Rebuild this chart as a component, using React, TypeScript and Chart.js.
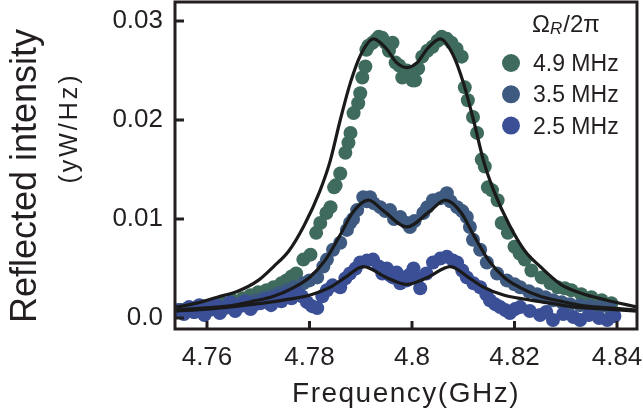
import React, { useEffect, useRef } from 'react';
import { Chart, registerables } from 'chart.js';

Chart.register(...registerables);

const FONT = '"Liberation Sans", Arial, Helvetica, sans-serif';
const INK = '#231f20';

const seriesLabels = ['4.9 MHz', '3.5 MHz', '2.5 MHz'];
const seriesColors = ['#3e6b5d', '#3e5a80', '#3a4f96'];

const xTicks = [4.76, 4.78, 4.8, 4.82, 4.84];
const xTickLabels = ['4.76', '4.78', '4.8', '4.82', '4.84'];
const yTicks = [0, 0.01, 0.02, 0.03];
const yTickLabels = ['0.0', '0.01', '0.02', '0.03'];

// Measured data, 4.9 MHz
const freq49 = [4.7550, 4.7570, 4.7590, 4.7610, 4.7630, 4.7650, 4.7670, 4.7685, 4.7700, 4.7716, 4.7730, 4.7745, 4.7755, 4.7765, 4.7774, 4.7788, 4.7802, 4.7813, 4.7821, 4.7833, 4.7841, 4.7848, 4.7851, 4.7860, 4.7870, 4.7876, 4.7880, 4.7886, 4.7895, 4.7899, 4.7903, 4.7909, 4.7911, 4.7915, 4.7923, 4.7930, 4.7935, 4.7942, 4.7948, 4.7955, 4.7962, 4.7968, 4.7975, 4.7981, 4.7990, 4.8001, 4.8006, 4.8012, 4.8020, 4.8030, 4.8040, 4.8050, 4.8058, 4.8068, 4.8077, 4.8087, 4.8097, 4.8103, 4.8109, 4.8119, 4.8127, 4.8136, 4.8142, 4.8148, 4.8156, 4.8167, 4.8175, 4.8187, 4.8200, 4.8210, 4.8220, 4.8233, 4.8253, 4.8270, 4.8284, 4.8298, 4.8311, 4.8330, 4.8350, 4.8370, 4.8389];
const val49 = [0.0008, 0.0010, 0.0012, 0.0013, 0.0015, 0.0018, 0.0020, 0.0023, 0.0026, 0.0028, 0.0031, 0.0035, 0.0038, 0.0042, 0.0045, 0.0059, 0.0064, 0.0086, 0.0096, 0.0106, 0.0112, 0.0132, 0.0134, 0.0146, 0.0167, 0.0177, 0.0187, 0.0207, 0.0217, 0.0227, 0.0243, 0.0254, 0.0271, 0.0275, 0.0278, 0.0281, 0.0284, 0.0283, 0.0278, 0.0270, 0.0278, 0.0258, 0.0255, 0.0243, 0.0250, 0.0240, 0.0240, 0.0252, 0.0264, 0.0270, 0.0274, 0.0280, 0.0284, 0.0282, 0.0278, 0.0272, 0.0264, 0.0233, 0.0220, 0.0203, 0.0187, 0.0160, 0.0153, 0.0132, 0.0129, 0.0119, 0.0096, 0.0086, 0.0072, 0.0065, 0.0059, 0.0048, 0.0041, 0.0035, 0.0031, 0.0030, 0.0028, 0.0024, 0.0021, 0.0018, 0.0015];

// Measured data, 3.5 MHz
const freq35 = [4.7545, 4.7560, 4.7575, 4.7590, 4.7605, 4.7620, 4.7635, 4.7650, 4.7665, 4.7680, 4.7695, 4.7710, 4.7725, 4.7740, 4.7756, 4.7770, 4.7788, 4.7800, 4.7815, 4.7827, 4.7834, 4.7846, 4.7860, 4.7873, 4.7879, 4.7885, 4.7893, 4.7905, 4.7912, 4.7918, 4.7925, 4.7938, 4.7948, 4.7957, 4.7965, 4.7977, 4.7990, 4.7996, 4.8005, 4.8022, 4.8030, 4.8041, 4.8055, 4.8068, 4.8075, 4.8088, 4.8098, 4.8107, 4.8113, 4.8119, 4.8133, 4.8146, 4.8166, 4.8185, 4.8200, 4.8211, 4.8228, 4.8244, 4.8260, 4.8275, 4.8292, 4.8308, 4.8328, 4.8347, 4.8366, 4.8386];
const val35 = [0.0007, 0.0009, 0.0006, 0.0010, 0.0008, 0.0012, 0.0010, 0.0013, 0.0015, 0.0014, 0.0018, 0.0020, 0.0022, 0.0025, 0.0028, 0.0031, 0.0035, 0.0038, 0.0041, 0.0052, 0.0059, 0.0069, 0.0076, 0.0089, 0.0096, 0.0100, 0.0109, 0.0122, 0.0118, 0.0122, 0.0116, 0.0112, 0.0108, 0.0109, 0.0100, 0.0102, 0.0096, 0.0092, 0.0098, 0.0106, 0.0112, 0.0119, 0.0121, 0.0126, 0.0118, 0.0112, 0.0108, 0.0102, 0.0092, 0.0079, 0.0069, 0.0056, 0.0045, 0.0038, 0.0034, 0.0031, 0.0027, 0.0024, 0.0021, 0.0018, 0.0016, 0.0014, 0.0013, 0.0012, 0.0011, 0.0010];

// Measured data, 2.5 MHz
const freq25 = [4.7545, 4.7555, 4.7565, 4.7575, 4.7585, 4.7595, 4.7605, 4.7615, 4.7625, 4.7635, 4.7645, 4.7655, 4.7665, 4.7675, 4.7685, 4.7695, 4.7705, 4.7715, 4.7725, 4.7735, 4.7745, 4.7755, 4.7765, 4.7775, 4.7785, 4.7795, 4.7805, 4.7815, 4.7825, 4.7834, 4.7845, 4.7860, 4.7870, 4.7879, 4.7890, 4.7899, 4.7912, 4.7924, 4.7935, 4.7942, 4.7951, 4.7958, 4.7963, 4.7970, 4.7977, 4.7985, 4.7990, 4.7996, 4.8003, 4.8010, 4.8016, 4.8028, 4.8041, 4.8055, 4.8068, 4.8080, 4.8088, 4.8098, 4.8107, 4.8120, 4.8133, 4.8145, 4.8152, 4.8162, 4.8172, 4.8182, 4.8191, 4.8201, 4.8211, 4.8230, 4.8250, 4.8262, 4.8275, 4.8295, 4.8315, 4.8328, 4.8345, 4.8365, 4.8381, 4.8395];
const val25 = [0.0008, 0.0004, 0.0011, 0.0006, 0.0013, 0.0003, 0.0009, 0.0014, 0.0005, 0.0011, 0.0016, 0.0007, 0.0012, 0.0017, 0.0009, 0.0014, 0.0015, 0.0019, 0.0013, 0.0021, 0.0017, 0.0024, 0.0020, 0.0026, 0.0022, 0.0016, 0.0012, 0.0010, 0.0022, 0.0028, 0.0033, 0.0031, 0.0040, 0.0045, 0.0050, 0.0056, 0.0058, 0.0059, 0.0052, 0.0045, 0.0050, 0.0043, 0.0041, 0.0046, 0.0035, 0.0041, 0.0038, 0.0044, 0.0050, 0.0040, 0.0030, 0.0045, 0.0056, 0.0060, 0.0062, 0.0058, 0.0056, 0.0048, 0.0041, 0.0035, 0.0031, 0.0024, 0.0018, 0.0014, 0.0011, 0.0008, 0.0005, 0.0009, 0.0011, 0.0007, 0.0003, 0.0006, -0.0002, 0.0004, 0.0001, -0.0002, 0.0003, 0.0000, -0.0002, 0.0002];

// Fit curves
const fitFreq49 = [4.754, 4.758, 4.762, 4.766, 4.770, 4.773, 4.776, 4.779, 4.782, 4.784, 4.786, 4.788, 4.790, 4.7925, 4.795, 4.797, 4.799, 4.801, 4.803, 4.8055, 4.808, 4.810, 4.812, 4.814, 4.816, 4.819, 4.822, 4.825, 4.829, 4.833, 4.838, 4.844];
const fit49 = [0.0011, 0.0015, 0.0021, 0.0027, 0.0038, 0.0052, 0.0068, 0.0094, 0.0128, 0.0158, 0.0200, 0.0238, 0.0266, 0.0282, 0.0272, 0.0258, 0.0253, 0.0258, 0.0272, 0.0282, 0.0266, 0.0238, 0.0200, 0.0158, 0.0128, 0.0094, 0.0068, 0.0052, 0.0034, 0.0025, 0.0018, 0.0011];

const fitFreq35 = [4.754, 4.759, 4.764, 4.769, 4.773, 4.777, 4.780, 4.783, 4.786, 4.7885, 4.7915, 4.7945, 4.799, 4.8035, 4.8065, 4.8095, 4.812, 4.815, 4.818, 4.821, 4.825, 4.829, 4.834, 4.839, 4.844];
const fit35 = [0.0008, 0.0010, 0.0012, 0.0017, 0.0022, 0.0031, 0.0041, 0.0058, 0.0084, 0.0107, 0.0119, 0.0108, 0.0092, 0.0108, 0.0119, 0.0107, 0.0084, 0.0058, 0.0041, 0.0031, 0.0022, 0.0017, 0.0012, 0.0010, 0.0008];

const fitFreq25 = [4.754, 4.760, 4.766, 4.771, 4.776, 4.780, 4.784, 4.787, 4.7905, 4.795, 4.799, 4.803, 4.8075, 4.811, 4.814, 4.818, 4.822, 4.827, 4.832, 4.838, 4.844];
const fit25 = [0.0007, 0.0009, 0.0012, 0.0015, 0.0019, 0.0023, 0.0031, 0.0041, 0.0052, 0.0041, 0.0034, 0.0041, 0.0052, 0.0041, 0.0031, 0.0023, 0.0019, 0.0015, 0.0011, 0.0009, 0.0007];

const X_MIN = 4.75376;
const X_MAX = 4.8439;
const Y_MIN = -0.00111;
const Y_MAX = 0.03192;

const toPts = (xs: number[], ys: number[]) =>
  xs.slice(0, Math.min(xs.length, ys.length)).map((x, i) => ({ x, y: ys[i] }));

const decorPlugin = {
  id: 'decor',
  afterDraw(chart: any) {
    const { ctx, chartArea } = chart;
    const { left, right, top, bottom } = chartArea;
    const xs = chart.scales.x;
    const ys = chart.scales.y;
    ctx.save();
    ctx.strokeStyle = INK;
    ctx.lineWidth = 3;
    ctx.strokeRect(left, top, right - left, bottom - top);
    ctx.beginPath();
    xTicks.forEach((v) => {
      const px = xs.getPixelForValue(v);
      ctx.moveTo(px, bottom);
      ctx.lineTo(px, bottom - 8);
    });
    yTicks.forEach((v) => {
      const py = ys.getPixelForValue(v);
      ctx.moveTo(left, py);
      ctx.lineTo(left + 9, py);
    });
    ctx.stroke();

    ctx.fillStyle = INK;
    // Y title
    ctx.save();
    ctx.translate(36, 176);
    ctx.rotate(-Math.PI / 2);
    ctx.textAlign = 'center';
    ctx.textBaseline = 'alphabetic';
    ctx.font = `36px ${FONT}`;
    ctx.fillText('Reflected intensity', 0, 0);
    ctx.restore();
    ctx.save();
    ctx.translate(77, 128);
    ctx.rotate(-Math.PI / 2);
    ctx.textAlign = 'center';
    ctx.textBaseline = 'alphabetic';
    ctx.font = `25px ${FONT}`;
    (ctx as any).letterSpacing = '3px';
    ctx.fillText('(yW/Hz)', 0, 0);
    ctx.restore();

    // X title
    ctx.save();
    ctx.textAlign = 'center';
    ctx.textBaseline = 'alphabetic';
    ctx.font = `28px ${FONT}`;
    (ctx as any).letterSpacing = '1.5px';
    ctx.fillText('Frequency(GHz)', 406, 402);
    ctx.restore();

    // Legend title: Ω_R/2π
    ctx.save();
    ctx.textAlign = 'left';
    ctx.textBaseline = 'alphabetic';
    ctx.font = `24px ${FONT}`;
    let tx = 532;
    ctx.fillText('Ω', tx, 32);
    tx += ctx.measureText('Ω').width;
    ctx.font = `italic 17px ${FONT}`;
    ctx.fillText('R', tx, 34);
    tx += ctx.measureText('R').width + 1;
    ctx.font = `24px ${FONT}`;
    ctx.fillText('/2π', tx, 32);
    ctx.restore();

    // Legend items
    ctx.save();
    ctx.font = `23px ${FONT}`;
    ctx.textAlign = 'left';
    ctx.textBaseline = 'alphabetic';
    seriesLabels.forEach((lab, i) => {
      const cy = 63 + i * 31.3;
      ctx.fillStyle = seriesColors[i];
      ctx.beginPath();
      ctx.arc(511, cy, 9, 0, Math.PI * 2);
      ctx.fill();
      ctx.fillStyle = INK;
      ctx.fillText(lab, 533, cy + 8);
    });
    ctx.restore();

    ctx.restore();
  },
};

export default function App() {
  const ref = useRef<HTMLCanvasElement>(null);
  useEffect(() => {
    document.body.style.margin = '0';
    if (!ref.current) return;
    const scatterDs = (xs: number[], ys: number[], color: string, order: number, label: string) => ({
      type: 'scatter' as const,
      label,
      data: toPts(xs, ys),
      backgroundColor: color,
      borderWidth: 0,
      pointRadius: 7,
      pointHoverRadius: 7,
      showLine: false,
      order,
    });
    const fitDs = (xs: number[], ys: number[], label: string) => ({
      type: 'line' as const,
      label,
      data: toPts(xs, ys),
      borderColor: '#1a1a1a',
      borderWidth: 3.2,
      pointRadius: 0,
      fill: false,
      cubicInterpolationMode: 'monotone' as const,
      order: 0,
    });
    const chart = new Chart(ref.current, {
      type: 'scatter',
      data: {
        datasets: [
          fitDs(fitFreq49, fit49, 'fit 4.9'),
          fitDs(fitFreq35, fit35, 'fit 3.5'),
          fitDs(fitFreq25, fit25, 'fit 2.5'),
          scatterDs(freq25, val25, seriesColors[2], 1, seriesLabels[2]),
          scatterDs(freq35, val35, seriesColors[1], 2, seriesLabels[1]),
          scatterDs(freq49, val49, seriesColors[0], 3, seriesLabels[0]),
        ] as any,
      },
      options: {
        animation: false,
        responsive: false,
        layout: { autoPadding: false, padding: { left: 0, top: 2, right: 6, bottom: 0 } },
        plugins: { legend: { display: false }, tooltip: { enabled: false } },
        scales: {
          x: {
            type: 'linear',
            min: X_MIN,
            max: X_MAX,
            grid: { display: false, drawTicks: false },
            border: { display: false },
            afterFit: (s: any) => {
              s.height = 88;
              s.paddingLeft = 0;
              s.paddingRight = 0;
              s.paddingTop = 0;
              s.paddingBottom = 0;
            },
            afterBuildTicks: (s: any) => { s.ticks = xTicks.map((v) => ({ value: v })); },
            ticks: {
              padding: 13,
              color: INK,
              font: { family: FONT, size: 26 },
              maxRotation: 0,
              autoSkip: false,
              callback: (v: any) => {
                const i = xTicks.findIndex((t) => Math.abs(t - Number(v)) < 1e-6);
                return i >= 0 ? xTickLabels[i] : '';
              },
            },
          },
          y: {
            type: 'linear',
            min: Y_MIN,
            max: Y_MAX,
            grid: { display: false, drawTicks: false },
            border: { display: false },
            afterFit: (s: any) => {
              s.width = 175;
              s.paddingLeft = 0;
              s.paddingRight = 0;
              s.paddingTop = 0;
              s.paddingBottom = 0;
            },
            afterBuildTicks: (s: any) => { s.ticks = yTicks.map((v) => ({ value: v })); },
            ticks: {
              padding: 12,
              color: INK,
              font: { family: FONT, size: 26 },
              autoSkip: false,
              callback: (v: any) => {
                const i = yTicks.findIndex((t) => Math.abs(t - Number(v)) < 1e-7);
                return i >= 0 ? yTickLabels[i] : '';
              },
            },
          },
        },
      },
      plugins: [decorPlugin],
    });
    return () => chart.destroy();
  }, []);
  return (
    <div style={{ width: 643, height: 417, background: '#fff' }}>
      <canvas ref={ref} width={643} height={417} style={{ display: 'block' }} />
    </div>
  );
}
